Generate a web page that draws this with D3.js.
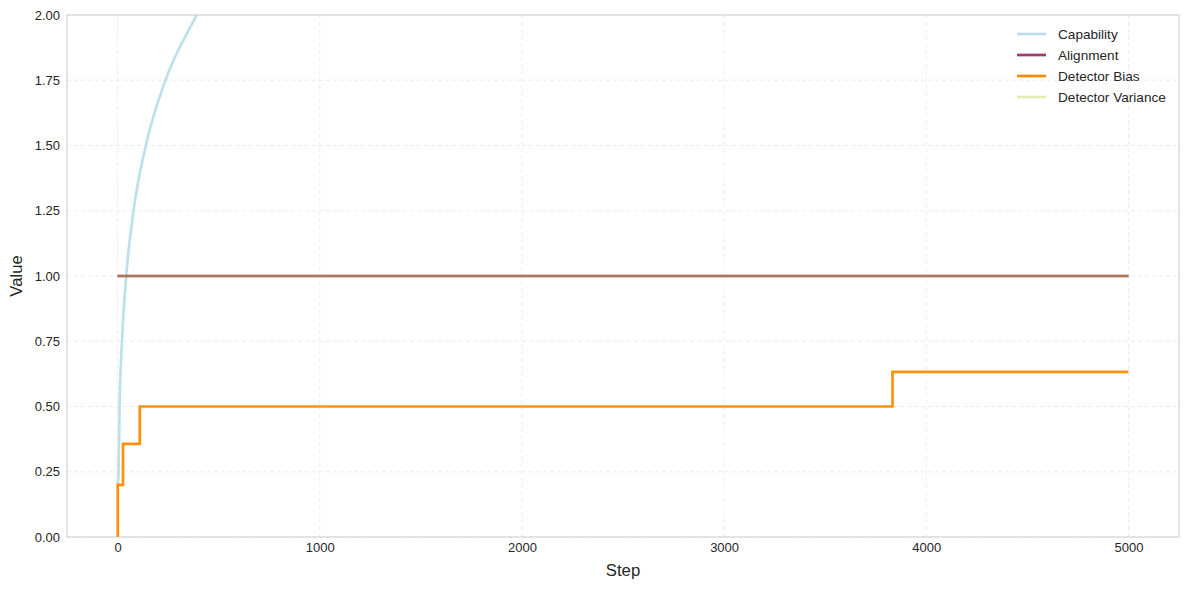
<!DOCTYPE html>
<html>
<head>
<meta charset="utf-8">
<script src="https://cdn.jsdelivr.net/npm/d3@7"></script>
<style>
  body { margin: 0; background: #fff; }
  text { font-family: "Liberation Sans", Arial, sans-serif; }
</style>
</head>
<body>
<svg id="chart" width="1189" height="589"></svg>
<script>
// values
const seriesNames = ['Capability', 'Alignment', 'Detector Bias', 'Detector Variance'];
const capabilitySteps = [1, 5, 10, 22, 43, 79, 140, 237, 392, 460];
const capabilityValues = [0.2, 0.25, 0.5, 0.75, 1.0, 1.25, 1.5, 1.75, 2.0, 2.1];
const alignmentSteps = [0, 5000];
const alignmentValues = [1.0, 1.0];
const biasSteps = [0, 1, 27, 110, 3833, 5000];
const biasValues = [0, 0.2, 0.357, 0.5, 0.633, 0.633];
const varianceSteps = [0, 5000];
const varianceValues = [1.0, 1.0];
const xTicks = [0, 1000, 2000, 3000, 4000, 5000];
const yTicks = [0, 0.25, 0.5, 0.75, 1.0, 1.25, 1.5, 1.75, 2.0];

const width = 1189, height = 589;
const margin = { top: 15, right: 10, bottom: 52, left: 67 };

const svg = d3.select('#chart');

const x = d3.scaleLinear().domain([-250, 5250]).range([margin.left, width - margin.right]);
const y = d3.scaleLinear().domain([0, 2]).range([height - margin.bottom, margin.top]);

// grid
const grid = svg.append('g');
grid.selectAll('line.gx').data(xTicks).enter().append('line')
  .attr('x1', d => x(d)).attr('x2', d => x(d))
  .attr('y1', y(0)).attr('y2', y(2))
  .attr('stroke', '#e6e6e6').attr('stroke-width', 0.8).attr('stroke-dasharray', '4,3');
grid.selectAll('line.gy').data(yTicks).enter().append('line')
  .attr('x1', x.range()[0]).attr('x2', x.range()[1])
  .attr('y1', d => y(d)).attr('y2', d => y(d))
  .attr('stroke', '#e6e6e6').attr('stroke-width', 0.8).attr('stroke-dasharray', '4,3');

// axes (labels only, no tick marks)
const xAxis = svg.append('g')
  .attr('transform', `translate(0,${y(0)})`)
  .call(d3.axisBottom(x).tickValues(xTicks).tickSize(0).tickPadding(6).tickFormat(d3.format('d')));
const yAxis = svg.append('g')
  .attr('transform', `translate(${margin.left},0)`)
  .call(d3.axisLeft(y).tickValues(yTicks).tickSize(0).tickPadding(7).tickFormat(d3.format('.2f')));
[xAxis, yAxis].forEach(a => {
  a.select('.domain').remove();
  a.selectAll('text').attr('font-size', 13).attr('fill', '#262626')
    .style('font-family', '"Liberation Sans", Arial, sans-serif');
});

// clip
svg.append('clipPath').attr('id', 'plotclip').append('rect')
  .attr('x', x.range()[0]).attr('y', y(2))
  .attr('width', x.range()[1] - x.range()[0]).attr('height', y(0) - y(2));

const plot = svg.append('g').attr('clip-path', 'url(#plotclip)');

const toPts = (s, v) => s.map((d, i) => [d, v[i]]);
const lineSmooth = d3.line().x(d => x(d[0])).y(d => y(d[1])).curve(d3.curveMonotoneX);
const lineStep = d3.line().x(d => x(d[0])).y(d => y(d[1])).curve(d3.curveStepAfter);
const lineStraight = d3.line().x(d => x(d[0])).y(d => y(d[1]));

const colors = {
  'Capability': '#add8e6',
  'Alignment': '#8b1a5a',
  'Detector Bias': '#ff8c00',
  'Detector Variance': '#c9d98a'
};

plot.append('path').datum(toPts(capabilitySteps, capabilityValues))
  .attr('d', lineSmooth).attr('fill', 'none')
  .attr('stroke', colors['Capability']).attr('stroke-opacity', 0.8).attr('stroke-width', 2.7);
plot.append('path').datum(toPts(alignmentSteps, alignmentValues))
  .attr('d', lineStraight).attr('fill', 'none')
  .attr('stroke', colors['Alignment']).attr('stroke-opacity', 0.8).attr('stroke-width', 2.7);
plot.append('path').datum(toPts(biasSteps, biasValues))
  .attr('d', lineStep).attr('fill', 'none')
  .attr('stroke', colors['Detector Bias']).attr('stroke-opacity', 0.95).attr('stroke-width', 2.7);
// variance sits on top of alignment, tinting it brown
plot.append('path').datum(toPts(varianceSteps, varianceValues))
  .attr('d', lineStraight).attr('fill', 'none')
  .attr('stroke', '#b89a3c').attr('stroke-opacity', 0.55).attr('stroke-width', 2.7);

// frame
svg.append('rect')
  .attr('x', x.range()[0]).attr('y', y(2))
  .attr('width', x.range()[1] - x.range()[0]).attr('height', y(0) - y(2))
  .attr('fill', 'none').attr('stroke', '#cccccc').attr('stroke-width', 1);

// axis titles
svg.append('text').attr('x', (x.range()[0] + x.range()[1]) / 2).attr('y', 576)
  .attr('text-anchor', 'middle').attr('font-size', 16.7).attr('fill', '#262626').text('Step');
svg.append('text').attr('transform', `translate(22,${(y(0) + y(2)) / 2}) rotate(-90)`)
  .attr('text-anchor', 'middle').attr('font-size', 16.7).attr('fill', '#262626').text('Value');

// legend
const legendSwatch = {
  'Capability': '#bddbe7',
  'Alignment': '#9f3a6d',
  'Detector Bias': '#f58c00',
  'Detector Variance': '#e3ebb7'
};
const legend = svg.append('g').attr('transform', 'translate(1017,34)');
const item = legend.selectAll('g').data(seriesNames).enter().append('g')
  .attr('transform', (d, i) => `translate(0,${i * 21})`);
item.append('line').attr('x1', 0).attr('x2', 29).attr('y1', 0).attr('y2', 0)
  .attr('stroke', d => legendSwatch[d]).attr('stroke-width', 2.7);
item.append('text').attr('x', 41).attr('y', 4.8).attr('font-size', 13.6).attr('fill', '#262626')
  .text(d => d);
</script>
</body>
</html>
